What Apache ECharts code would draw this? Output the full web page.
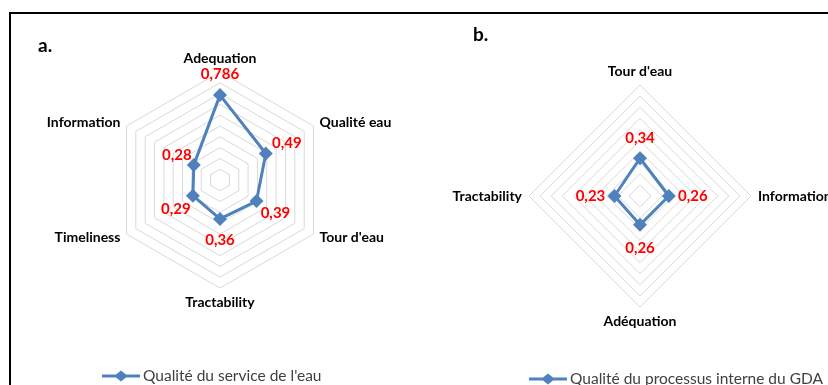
<!DOCTYPE html>
<html>
<head>
<meta charset="utf-8">
<script src="https://cdn.jsdelivr.net/npm/echarts@6/dist/echarts.min.js"></script>
<style>
  html, body { margin: 0; padding: 0; background: #fff; }
  #chart { width: 828px; height: 385px; }
</style>
</head>
<body>
<div id="chart"></div>
<script>
// Panel a: water service quality (axes listed clockwise from the top)
const axesA = ['Adequation', 'Qualité eau', "Tour d'eau", 'Tractability', 'Timeliness', 'Information'];
const valuesA = [0.786, 0.49, 0.39, 0.36, 0.29, 0.28];
const seriesNameA = "Qualité du service de l'eau";

// Panel b: internal process quality of the GDA (clockwise from the top)
const axesB = ["Tour d'eau", 'Information', 'Adéquation', 'Tractability'];
const valuesB = [0.34, 0.26, 0.26, 0.23];
const seriesNameB = 'Qualité du processus interne du GDA';

// Radial scale shared by both panels
const scaleMax = 1;
const scaleSplits = 10;

// Value-label offsets (px) from each marker, clockwise order
const labelOffsetA = [[0, -21], [21, -10], [19, 12], [0, 21], [-17, 13], [-17, -10]];
const labelOffsetB = [[0, -20], [24, 0], [0, 23], [-24, 0]];

const BLUE = '#4F81BD';
const FONT = 'Lato, "Noto Sans", sans-serif';

// ECharts lays indicators counter-clockwise; reorder the clockwise lists.
function ccw(arr) { return [arr[0]].concat(arr.slice(1).reverse()); }
function fmt(v) { return String(v).replace('.', ','); }

function radarCfg(names, center, radius) {
  return {
    center: center,
    radius: radius,
    startAngle: 90,
    shape: 'polygon',
    splitNumber: scaleSplits,
    indicator: ccw(names).map(n => ({ name: n, min: 0, max: scaleMax })),
    axisName: { color: '#000', fontWeight: 'bold', fontSize: 14, fontFamily: FONT },
    nameGap: 7,
    axisLine: { show: false },
    axisTick: { show: false },
    axisLabel: { show: false },
    splitArea: { show: false },
    splitLine: { lineStyle: { color: '#D9D9D9', width: 1 } }
  };
}

function mainSeries(name, values, radarIndex) {
  return {
    type: 'radar',
    name: name,
    radarIndex: radarIndex,
    symbol: 'diamond',
    symbolSize: 14,
    lineStyle: { color: BLUE, width: 3 },
    itemStyle: { color: BLUE },
    label: { show: false },
    z: 2,
    data: [{ name: name, value: ccw(values) }]
  };
}

// One invisible series per point, carrying only that point's value label.
function labelSeries(values, offsets, radarIndex) {
  return values.map((v, i) => {
    const arr = values.map((_, j) => (j === i ? v : 0));
    return {
      type: 'radar',
      radarIndex: radarIndex,
      symbol: 'circle',
      symbolSize: 1,
      silent: true,
      lineStyle: { opacity: 0, width: 0 },
      itemStyle: { color: 'rgba(0,0,0,0)' },
      z: 3,
      label: {
        show: true,
        position: 'inside',
        offset: offsets[i],
        color: '#FF0000',
        fontWeight: 'bold',
        fontSize: 15,
        fontFamily: FONT,
        formatter: p => (p.value ? fmt(p.value) : '')
      },
      data: [{ value: ccw(arr) }]
    };
  });
}

const legendIcon = 'path://M0,4 L14,4 L19,0 L24,4 L38,4 L38,7 L24,7 L19,11 L14,7 L0,7 Z';

const chart = echarts.init(document.getElementById('chart'), null, { renderer: 'canvas' });
chart.setOption({
  animation: false,
  backgroundColor: '#fff',
  title: [
    { text: 'a.', left: 33, top: 31, textStyle: { fontFamily: FONT, fontWeight: 'bold', fontSize: 19, color: '#000' } },
    { text: 'b.', left: 468, top: 20, textStyle: { fontFamily: FONT, fontWeight: 'bold', fontSize: 19, color: '#000' } }
  ],
  legend: [
    {
      data: [{ name: seriesNameA, icon: legendIcon }],
      left: 102, top: 368, padding: 0,
      itemWidth: 38, itemHeight: 11, itemGap: 4,
      textStyle: { fontFamily: FONT, fontSize: 15.5, color: '#404040', padding: [0, 0, 0, -2] },
      selectedMode: false
    },
    {
      data: [{ name: seriesNameB, icon: legendIcon }],
      left: 529, top: 371, padding: 0,
      itemWidth: 38, itemHeight: 11, itemGap: 4,
      textStyle: { fontFamily: FONT, fontSize: 15.5, color: '#404040', padding: [0, 0, 0, -2] },
      selectedMode: false
    }
  ],
  radar: [
    radarCfg(axesA, [220, 180], 108),
    radarCfg(axesB, [640, 196], 111)
  ],
  series: [
    mainSeries(seriesNameA, valuesA, 0),
    mainSeries(seriesNameB, valuesB, 1)
  ].concat(labelSeries(valuesA, labelOffsetA, 0), labelSeries(valuesB, labelOffsetB, 1)),
  graphic: [
    { type: 'line', shape: { x1: 9, y1: 13, x2: 828, y2: 13 }, style: { stroke: '#000', lineWidth: 2 } },
    { type: 'line', shape: { x1: 10, y1: 12, x2: 10, y2: 385 }, style: { stroke: '#000', lineWidth: 2 } }
  ]
});
</script>
</body>
</html>
